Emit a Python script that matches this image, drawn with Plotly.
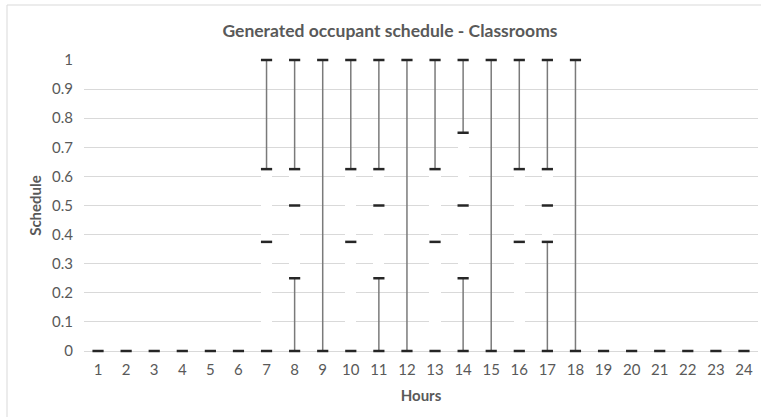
import plotly.graph_objects as go

hours = list(range(1, 25))
# marker values per hour
markers = {
    1: [0], 2: [0], 3: [0], 4: [0], 5: [0], 6: [0],
    7: [0, 0.375, 0.625, 1],
    8: [0, 0.25, 0.5, 0.625, 1],
    9: [0, 1],
    10: [0, 0.375, 0.625, 1],
    11: [0, 0.25, 0.5, 0.625, 1],
    12: [0, 1],
    13: [0, 0.375, 0.625, 1],
    14: [0, 0.25, 0.5, 0.75, 1],
    15: [0, 1],
    16: [0, 0.375, 0.625, 1],
    17: [0, 0.375, 0.5, 0.625, 1],
    18: [0, 1],
    19: [0], 20: [0], 21: [0], 22: [0], 23: [0], 24: [0],
}
# white up/down bar (low, high) per hour
box_low = {7: 0, 8: 0.25, 10: 0, 11: 0.25, 13: 0, 14: 0.25, 16: 0, 17: 0.375}
box_high = {7: 0.625, 8: 0.625, 10: 0.625, 11: 0.625, 13: 0.625, 14: 0.75, 16: 0.625, 17: 0.625}

TXT = "#595959"
FONT = "Lato"

fig = go.Figure()

# white up-down bars (mask gridlines)
bx = list(box_low.keys())
fig.add_trace(go.Bar(
    x=bx, y=[box_high[h] - box_low[h] for h in bx], base=[box_low[h] for h in bx],
    width=0.4, marker=dict(color="white", line=dict(width=0)), showlegend=False,
    hoverinfo="skip"))

# visible high-low line segments
lx, ly = [], []
for h in hours:
    vals = markers[h]
    lo, hi = min(vals), max(vals)
    if hi == lo:
        continue
    if h in box_low:
        if box_low[h] > lo:
            lx += [h, h, None]; ly += [lo, box_low[h], None]
        if box_high[h] < hi:
            lx += [h, h, None]; ly += [box_high[h], hi, None]
    else:
        lx += [h, h, None]; ly += [lo, hi, None]
fig.add_trace(go.Scatter(x=lx, y=ly, mode="lines", line=dict(color="#7a7a7a", width=1.5),
                         showlegend=False, hoverinfo="skip", cliponaxis=False))

# dash markers
mx, my = [], []
for h in hours:
    for v in markers[h]:
        mx.append(h); my.append(v)
fig.add_trace(go.Scatter(x=mx, y=my, mode="markers",
                         marker=dict(symbol="line-ew", size=8, line=dict(color="#262626", width=2.5)),
                         showlegend=False, cliponaxis=False))

fig.update_layout(
    width=761, height=417,
    margin=dict(l=84, r=3, t=60, b=66),
    paper_bgcolor="white", plot_bgcolor="white",
    font=dict(family=FONT, color=TXT, size=15),
    title=dict(text="<b>Generated occupant schedule - Classrooms</b>", x=0.454, xref="paper",
               xanchor="center", y=0.925, yanchor="middle", font=dict(size=17.5, color=TXT, family=FONT)),
    bargap=0,
    xaxis=dict(range=[0.5, 24.5], tickmode="array", tickvals=hours, ticktext=[str(h) for h in hours],
               showgrid=False, zeroline=False, showline=False, ticks="",
               tickfont=dict(size=15, color=TXT), ticklabelstandoff=8,
               title=dict(text="<b>Hours</b>", font=dict(size=15, color=TXT), standoff=13)),
    yaxis=dict(range=[0, 1], tickmode="array", tickvals=[i / 10 for i in range(11)],
               ticktext=["0", "0.1", "0.2", "0.3", "0.4", "0.5", "0.6", "0.7", "0.8", "0.9", "1"],
               showgrid=True, gridcolor="#d9d9d9", gridwidth=1, zeroline=True, zerolinecolor="#d9d9d9",
               zerolinewidth=1, showline=False, ticks="", ticklabelstandoff=10,
               tickfont=dict(size=15, color=TXT),
               title=dict(text="<b>Schedule</b>", font=dict(size=15, color=TXT), standoff=6)),
    shapes=[dict(type="rect", xref="paper", yref="paper", x0=(7 - 84) / 674, x1=1.05,
                 y0=-0.3, y1=(351 - 5) / 291, line=dict(color="#d9d9d9", width=1), layer="below")],
)

fig.write_html("out.html", config={"displayModeBar": False},
               post_script="document.body.style.margin='0';")
